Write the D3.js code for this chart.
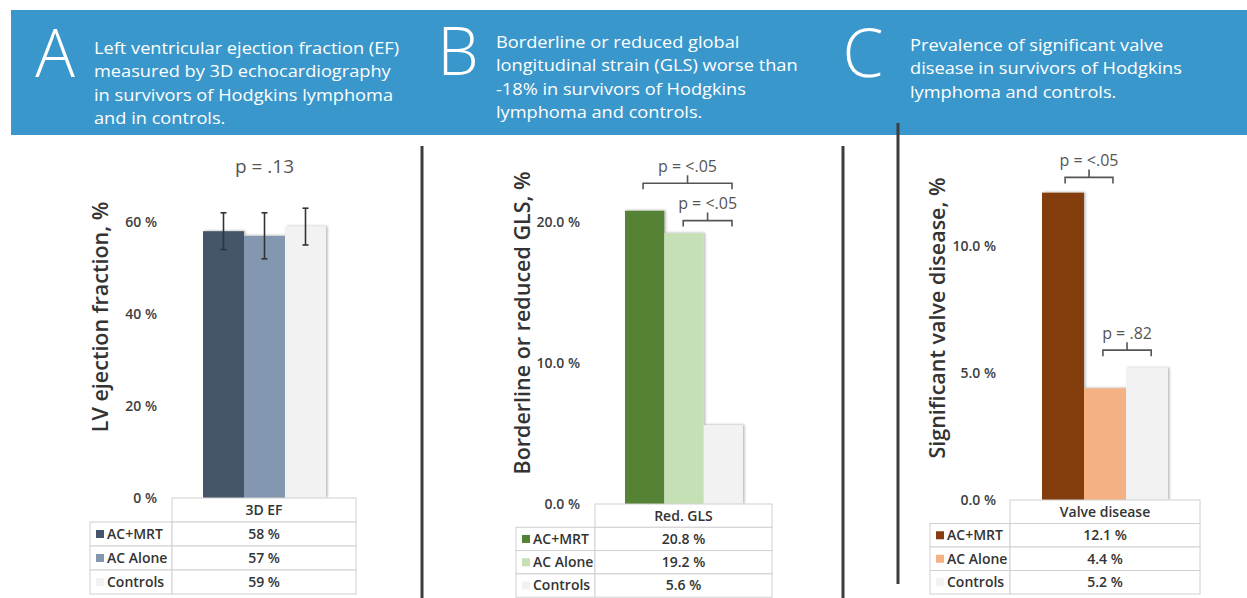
<!DOCTYPE html>
<html>
<head>
<meta charset="utf-8">
<script src="https://cdn.jsdelivr.net/npm/d3@7"></script>
<style>
  html, body { margin: 0; padding: 0; background: #fff; }
  svg { display: block; font-family: "Open Sans", "Noto Sans", sans-serif; }
</style>
</head>
<body>
<svg id="chart" width="1247" height="598"></svg>
<script>
// ---- data ----
const seriesNames = ["AC+MRT", "AC Alone", "Controls"];

const efCategory = "3D EF";
const efValues = [58, 57, 59];
const efErrors = [4, 5, 4];
const efTicks = [0, 20, 40, 60];

const glsCategory = "Red. GLS";
const glsValues = [20.8, 19.2, 5.6];
const glsTicks = [0, 10, 20];

const valveCategory = "Valve disease";
const valveValues = [12.1, 4.4, 5.2];
const valveTicks = [0, 5, 10];

const panelLetters = ["A", "B", "C"];
const headlines = [
  ["Left ventricular ejection fraction (EF)", "measured by 3D echocardiography", "in survivors of Hodgkins lymphoma", "and in controls."],
  ["Borderline or reduced global", "longitudinal strain (GLS) worse than", "-18% in survivors of Hodgkins", "lymphoma and controls."],
  ["Prevalence of significant valve", "disease in survivors of Hodgkins", "lymphoma and controls."]
];
const yTitles = ["LV ejection fraction, %", "Borderline or reduced GLS, %", "Significant valve disease, %"];

// ---- drawing ----
const svg = d3.select("#chart");
const defs = svg.append("defs");
defs.append("filter").attr("id", "barShadow")
  .attr("x", "-20%").attr("y", "-5%").attr("width", "140%").attr("height", "110%")
  .append("feDropShadow")
  .attr("dx", 1.5).attr("dy", -0.5).attr("stdDeviation", 1)
  .attr("flood-color", "#000").attr("flood-opacity", 0.28);

// header banner
svg.append("rect").attr("x", 11).attr("y", 10).attr("width", 1247 - 11).attr("height", 125)
  .attr("fill", "#3a97cb");

const bannerLayout = [
  { letterX: 55, letterY: 77, textX: 94, baseline: 54 },
  { letterX: 458, letterY: 75, textX: 496, baseline: 48 },
  { letterX: 863, letterY: 77, textX: 910, baseline: 51 }
];
const lineHeight = 23.3;
const headFont = 17.2;

// measure one line so the headline face is compressed to the narrower column width
const probe = svg.append("text").attr("font-size", headFont).text(headlines[0][0]);
const sx = 305 / probe.node().getComputedTextLength();
probe.remove();

bannerLayout.forEach((b, i) => {
  svg.append("text")
    .attr("x", b.letterX).attr("y", b.letterY)
    .attr("text-anchor", "middle")
    .attr("font-size", 66).attr("font-weight", 300)
    .attr("fill", "#fff")
    .text(panelLetters[i]);
  const g = svg.append("g").attr("transform", `translate(${b.textX},${b.baseline}) scale(${sx},1)`);
  g.selectAll("text").data(headlines[i]).join("text")
    .attr("x", 0).attr("y", (d, j) => j * lineHeight)
    .attr("font-size", headFont).attr("fill", "#fff")
    .text(d => d);
});

// panel dividers
const dividers = [
  { x: 422, y1: 146, y2: 598 },
  { x: 843, y1: 146, y2: 598 },
  { x: 898, y1: 123, y2: 584 }
];
svg.selectAll("line.divider").data(dividers).join("line")
  .attr("class", "divider")
  .attr("x1", d => d.x).attr("x2", d => d.x)
  .attr("y1", d => d.y1).attr("y2", d => d.y2)
  .attr("stroke", "#3d3d3d").attr("stroke-width", 3);

const fmtInt = d => d + " %";
const fmtOne = d => d3.format(".1f")(d) + " %";

const panels = [
  {
    category: efCategory, values: efValues, errors: efErrors, ticks: efTicks,
    colors: ["#44546a", "#8497b0", "#f2f2f2"],
    fmtTick: fmtInt, fmtVal: fmtInt,
    y0: 498, yTop: 222, tickRight: 157,
    barX0: 203, barX1: 326,
    legendX: 90, tableX0: 172, tableX1: 356, rowH: 24,
    titleX: 100, titleY: 317, title: yTitles[0],
    notes: [{ label: "p = .13", level: 72, size: 19 }],
    brackets: []
  },
  {
    category: glsCategory, values: glsValues, ticks: glsTicks,
    colors: ["#548235", "#c5e0b4", "#f2f2f2"],
    fmtTick: fmtOne, fmtVal: fmtOne,
    y0: 504, yTop: 222, tickRight: 580,
    barX0: 625, barX1: 743,
    legendX: 516, tableX0: 595, tableX1: 772, rowH: 23.3,
    titleX: 522, titleY: 323, title: yTitles[1],
    notes: [],
    brackets: [
      { from: 0.46, to: 2.72, level: 22.75, label: "p = <.05" },
      { from: 1.48, to: 2.72, level: 20.1, label: "p = <.05" }
    ]
  },
  {
    category: valveCategory, values: valveValues, ticks: valveTicks,
    colors: ["#843c0c", "#f4b183", "#f2f2f2"],
    fmtTick: fmtOne, fmtVal: fmtOne,
    y0: 500, yTop: 246, tickRight: 996,
    barX0: 1042, barX1: 1168,
    legendX: 930, tableX0: 1010, tableX1: 1200, rowH: 23.5,
    titleX: 937, titleY: 318, title: yTitles[2],
    notes: [],
    brackets: [
      { from: 0.55, to: 1.69, level: 12.7, label: "p = <.05" },
      { from: 1.45, to: 2.6, level: 5.9, label: "p = .82" }
    ]
  }
];

const cellFont = 14;

panels.forEach(p => {
  const g = svg.append("g");
  const top = p.ticks[p.ticks.length - 1];
  const y = d3.scaleLinear().domain([0, top]).range([p.y0, p.yTop]);
  const x = d3.scaleBand().domain(seriesNames).range([p.barX0, p.barX1]).padding(0);
  const rows = seriesNames.map((s, i) => ({ name: s, value: p.values[i], err: p.errors ? p.errors[i] : null, color: p.colors[i] }));

  // y tick labels (no axis line)
  const axis = g.append("g")
    .attr("transform", `translate(${p.tickRight},0)`)
    .call(d3.axisLeft(y).tickValues(p.ticks).tickFormat(p.fmtTick).tickSize(0).tickPadding(0));
  axis.select(".domain").remove();
  axis.selectAll("text")
    .attr("font-family", "'Open Sans', sans-serif")
    .attr("font-size", 14).attr("font-weight", 600).attr("fill", "#404040")
    .attr("dy", "0.35em");

  // y title
  g.append("text")
    .attr("transform", `translate(${p.titleX},${p.titleY}) rotate(-90)`)
    .attr("text-anchor", "middle").attr("dy", "0.35em")
    .attr("font-size", 21.5).attr("font-weight", 600).attr("fill", "#333")
    .text(p.title);

  // bars
  g.append("g").attr("filter", "url(#barShadow)")
    .selectAll("rect").data(rows).join("rect")
    .attr("x", d => x(d.name)).attr("width", x.bandwidth())
    .attr("y", d => y(d.value)).attr("height", d => y(0) - y(d.value))
    .attr("fill", d => d.color);

  // error bars
  const eb = rows.filter(d => d.err != null);
  const cap = 3;
  const ebg = g.append("g").attr("stroke", "#333").attr("stroke-width", 1.6);
  eb.forEach(d => {
    const cx = x(d.name) + x.bandwidth() / 2;
    const yHi = y(d.value + d.err), yLo = y(d.value - d.err);
    ebg.append("line").attr("x1", cx).attr("x2", cx).attr("y1", yHi).attr("y2", yLo);
    ebg.append("line").attr("x1", cx - cap).attr("x2", cx + cap).attr("y1", yHi).attr("y2", yHi);
    ebg.append("line").attr("x1", cx - cap).attr("x2", cx + cap).attr("y1", yLo).attr("y2", yLo);
  });

  // free-standing p value notes
  p.notes.forEach(n => {
    g.append("text")
      .attr("x", (p.barX0 + p.barX1) / 2).attr("y", y(n.level))
      .attr("text-anchor", "middle").attr("dy", "0.35em")
      .attr("font-size", n.size).attr("fill", "#555")
      .text(n.label);
  });

  // significance brackets
  const bw = x.bandwidth();
  p.brackets.forEach(b => {
    const xa = p.barX0 + b.from * bw, xb = p.barX0 + b.to * bw, yb = y(b.level);
    const xm = (xa + xb) / 2;
    g.append("path")
      .attr("d", `M${xa},${yb + 6}V${yb}H${xb}V${yb + 6}M${xm},${yb}V${yb - 8}`)
      .attr("fill", "none").attr("stroke", "#555").attr("stroke-width", 1.6);
    g.append("text")
      .attr("x", xm).attr("y", yb - 17)
      .attr("text-anchor", "middle").attr("dy", "0.35em")
      .attr("font-size", 16).attr("fill", "#555")
      .text(b.label);
  });

  // data table
  const tg = g.append("g");
  const cellStroke = "#d0d0d0";
  const y0 = p.y0;
  tg.append("rect").attr("x", p.tableX0).attr("y", y0).attr("width", p.tableX1 - p.tableX0).attr("height", p.rowH)
    .attr("fill", "#fff").attr("stroke", cellStroke);
  tg.append("text").attr("x", (p.tableX0 + p.tableX1) / 2).attr("y", y0 + p.rowH / 2)
    .attr("text-anchor", "middle").attr("dy", "0.35em")
    .attr("font-size", cellFont).attr("font-weight", 600).attr("fill", "#333")
    .text(p.category);
  rows.forEach((d, i) => {
    const ry = y0 + p.rowH * (i + 1);
    tg.append("rect").attr("x", p.legendX).attr("y", ry).attr("width", p.tableX0 - p.legendX).attr("height", p.rowH)
      .attr("fill", "#fff").attr("stroke", cellStroke);
    tg.append("rect").attr("x", p.tableX0).attr("y", ry).attr("width", p.tableX1 - p.tableX0).attr("height", p.rowH)
      .attr("fill", "#fff").attr("stroke", cellStroke);
    tg.append("rect").attr("x", p.legendX + 6).attr("y", ry + p.rowH / 2 - 4).attr("width", 8).attr("height", 8)
      .attr("fill", d.color);
    tg.append("text").attr("x", p.legendX + 17).attr("y", ry + p.rowH / 2)
      .attr("dy", "0.35em").attr("font-size", cellFont).attr("font-weight", 600).attr("fill", "#333")
      .text(d.name);
    tg.append("text").attr("x", (p.tableX0 + p.tableX1) / 2).attr("y", ry + p.rowH / 2)
      .attr("text-anchor", "middle").attr("dy", "0.35em")
      .attr("font-size", cellFont).attr("font-weight", 600).attr("fill", "#333")
      .text(p.fmtVal(d.value));
  });
});
</script>
</body>
</html>
